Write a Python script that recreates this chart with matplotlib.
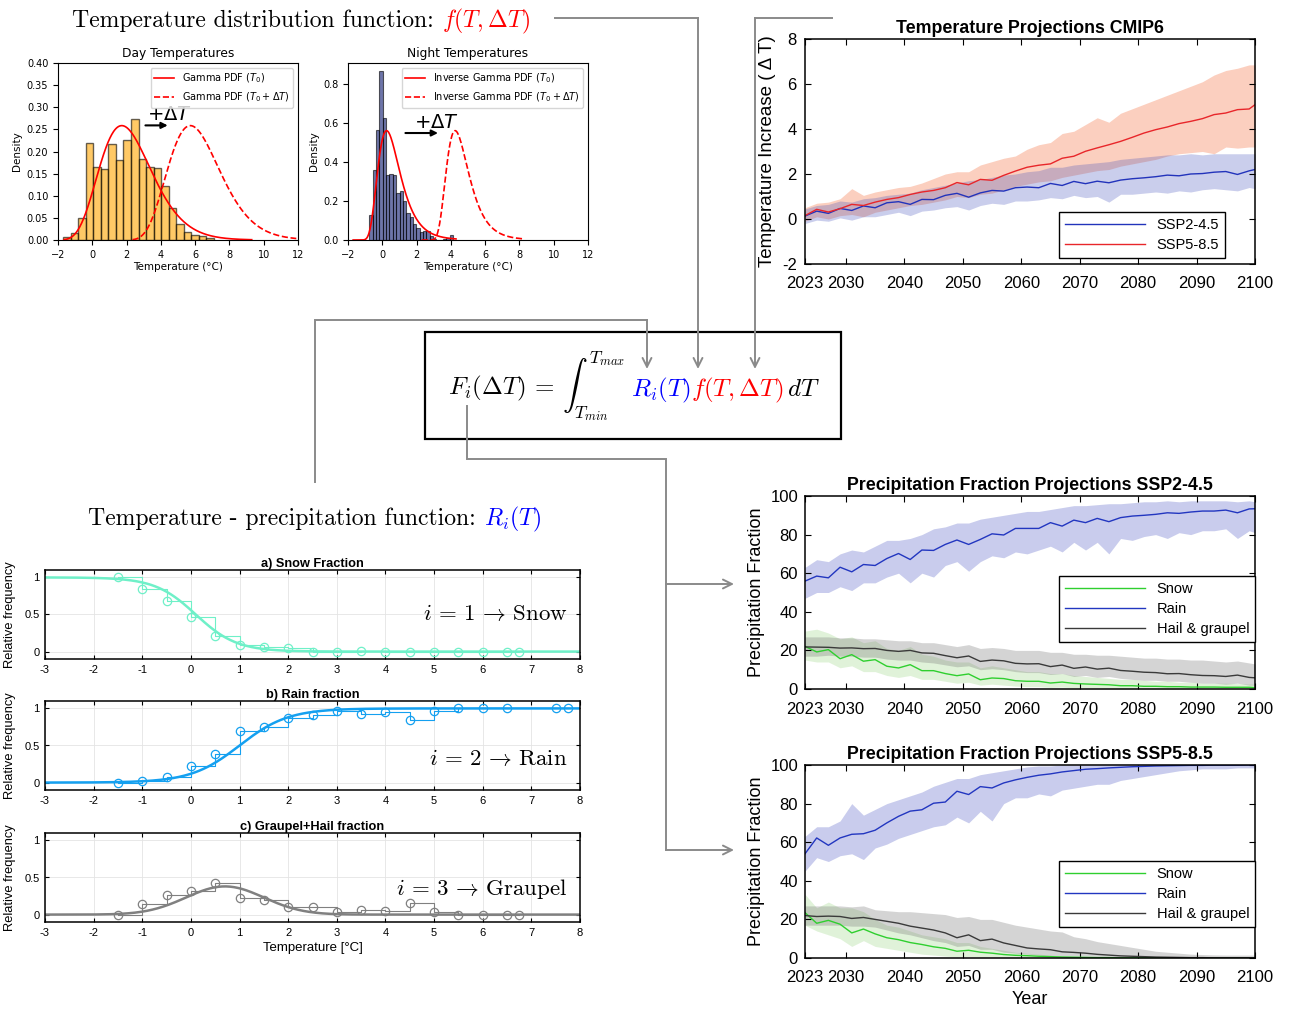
import math
import numpy as np
import matplotlib
matplotlib.use('Agg')
import matplotlib.pyplot as plt
from matplotlib.patches import Rectangle

plt.rcParams['font.family'] = ['Liberation Sans', 'DejaVu Sans']

# ---------------- observed temperature histograms ----------------
day_left = [-1.70, -1.26, -0.82, -0.38, 0.06, 0.50, 0.94, 1.38, 1.82, 2.26,
            2.70, 3.14, 3.58, 4.02, 4.46, 4.90, 5.34, 5.78, 6.22, 6.66]
day_width = 0.44
day_density = [0.006, 0.015, 0.050, 0.220, 0.164, 0.160, 0.217, 0.180, 0.225, 0.273,
               0.183, 0.165, 0.162, 0.123, 0.073, 0.036, 0.018, 0.012, 0.008, 0.005]

night_left = [-0.750, -0.555, -0.360, -0.165, 0.030, 0.225, 0.420, 0.615, 0.810, 1.005,
              1.200, 1.395, 1.590, 1.785, 1.980, 2.175, 2.370, 2.565, 2.760, 2.955,
              3.150, 3.345, 3.540, 3.735, 3.930]
night_width = 0.195
night_density = [0.13, 0.36, 0.56, 0.864, 0.624, 0.33, 0.34, 0.33, 0.24, 0.25,
                 0.20, 0.14, 0.12, 0.08, 0.06, 0.04, 0.045, 0.045, 0.02, 0.005,
                 0.0, 0.0, 0.005, 0.01, 0.025]

# fitted distributions and warming shift
day_gamma = dict(loc=-2.6, shape=9.0, scale=0.54)
night_invgamma = dict(loc=-2.0, shape=11.0, scale=27.0)
delta_T = 4.0

# ---------------- precipitation type vs temperature ----------------
snow_T = [-1.5, -1, -0.5, 0, 0.5, 1, 1.5, 2, 2.5, 3, 3.5, 4, 4.5, 5, 5.5, 6, 6.5, 6.75]
snow_freq = [1.0, 0.85, 0.68, 0.47, 0.21, 0.09, 0.06, 0.05, 0.0, 0.0, 0.01, 0.0, 0.0, 0.0, 0.0, 0.0, 0.0, 0.0]
rain_T = [-1.5, -1, -0.5, 0, 0.5, 1, 1.5, 2, 2.5, 3, 3.5, 4, 4.5, 5, 5.5, 6, 6.5, 7.5, 7.75]
rain_freq = [0.0, 0.02, 0.07, 0.23, 0.39, 0.70, 0.75, 0.87, 0.91, 0.97, 0.93, 0.95, 0.85, 0.96, 1.0, 1.0, 1.0, 1.0, 1.0]
graupel_T = [-1.5, -1, -0.5, 0, 0.5, 1, 1.5, 2, 2.5, 3, 3.5, 4, 4.5, 5, 5.5, 6, 6.5, 6.75]
graupel_freq = [0.0, 0.14, 0.27, 0.32, 0.42, 0.23, 0.20, 0.10, 0.10, 0.04, 0.06, 0.05, 0.15, 0.04, 0.0, 0.0, 0.0, 0.0]

# fitted curves: logistic (snow, rain) and bell (graupel)
snow_fit = dict(mid=0.1, width=0.42)
rain_fit = dict(mid=1.0, width=0.5)
graupel_fit = dict(peak=0.38, center=0.7, sigma=0.8)

# ---------------- CMIP6 projections ----------------
years = list(range(2023, 2100, 2)) + [2100]

ssp245_mean = [0.13, 0.35, 0.25, 0.47, 0.38, 0.58, 0.50, 0.72, 0.77, 0.65,
               0.87, 0.86, 1.05, 1.14, 0.97, 1.16, 1.27, 1.24, 1.39, 1.42,
               1.39, 1.58, 1.49, 1.67, 1.57, 1.68, 1.61, 1.73, 1.79, 1.83,
               1.88, 1.95, 1.92, 2.00, 2.02, 2.08, 2.11, 1.98, 2.14, 2.20]
ssp245_lo = [-0.20, -0.05, -0.10, 0.05, -0.05, 0.10, 0.10, 0.20, 0.30, 0.15,
             0.35, 0.40, 0.50, 0.55, 0.40, 0.60, 0.70, 0.65, 0.80, 0.80,
             0.85, 0.95, 0.90, 1.05, 0.95, 1.00, 0.75, 1.10, 1.10, 1.15,
             1.20, 1.15, 1.25, 1.20, 1.30, 1.35, 1.30, 1.25, 1.40, 1.35]
ssp245_hi = [0.45, 0.60, 0.65, 0.80, 0.75, 0.90, 0.95, 1.05, 1.10, 1.15,
             1.30, 1.40, 1.50, 1.60, 1.70, 1.75, 1.85, 1.95, 2.00, 2.10,
             2.15, 2.30, 2.30, 2.40, 2.45, 2.50, 2.55, 2.65, 2.70, 2.75,
             2.80, 2.85, 2.85, 2.90, 2.85, 2.90, 2.90, 2.90, 2.90, 2.90]

ssp585_mean = [0.15, 0.43, 0.31, 0.46, 0.65, 0.60, 0.75, 0.87, 0.95, 1.09,
               1.20, 1.27, 1.39, 1.62, 1.52, 1.76, 1.72, 1.94, 2.13, 2.30,
               2.39, 2.45, 2.70, 2.79, 3.01, 3.16, 3.30, 3.45, 3.63, 3.82,
               3.97, 4.09, 4.24, 4.34, 4.46, 4.64, 4.71, 4.86, 4.89, 5.08]
ssp585_lo = [-0.10, 0.10, 0.00, 0.15, 0.20, 0.10, 0.30, 0.40, 0.50, 0.60,
             0.65, 0.75, 0.85, 1.00, 0.95, 1.10, 1.15, 1.30, 1.45, 1.55,
             1.65, 1.70, 1.85, 1.95, 2.05, 2.15, 2.20, 2.35, 2.45, 2.55,
             2.65, 2.80, 2.90, 2.95, 3.00, 2.90, 3.20, 3.15, 3.20, 3.20]
ssp585_hi = [0.50, 0.70, 0.75, 0.90, 1.35, 1.05, 1.20, 1.30, 1.40, 1.45,
             1.60, 1.80, 2.00, 2.10, 2.10, 2.40, 2.55, 2.70, 2.80, 3.10,
             3.30, 3.40, 3.80, 3.90, 4.20, 4.50, 4.30, 4.70, 4.90, 5.10,
             5.30, 5.50, 5.70, 5.90, 6.10, 6.40, 6.60, 6.70, 6.85, 6.85]

# ---------------- precipitation fraction projections (%) ----------------
rain245_mean = [55.9, 58.5, 57.6, 63.1, 60.7, 64.5, 64.0, 67.6, 70.2, 67.1,
                72.0, 71.8, 74.9, 77.2, 74.9, 77.5, 80.4, 79.8, 83.2, 83.2,
                83.2, 86.2, 84.4, 87.5, 86.2, 88.4, 86.7, 88.8, 89.6, 90.0,
                90.5, 91.3, 91.0, 91.7, 92.2, 92.2, 92.7, 91.3, 93.3, 93.4]
rain245_lo = [47, 50, 50, 53, 51, 55, 55, 58, 60, 55,
              60, 58, 64, 66, 61, 66, 69, 68, 71, 70,
              72, 74, 71, 76, 72, 76, 70, 78, 77, 79,
              80, 78, 81, 80, 82, 82, 83, 78, 82, 81]
rain245_hi = [63, 67, 66, 70, 72, 71, 74, 77, 77, 78,
              80, 83, 84, 86, 86, 88, 89, 90, 91, 92,
              92, 93, 94, 95, 95, 95.5, 96, 96, 96.5, 97,
              97, 97.5, 97, 97.5, 97.5, 97.5, 97.5, 97, 97.5, 97]
snow245_mean = [22.1, 19.2, 20.4, 15.7, 17.8, 14.4, 15.2, 11.8, 10.9, 12.6,
                9.5, 9.5, 8.0, 6.9, 7.8, 4.8, 5.7, 5.4, 4.3, 4.0,
                4.0, 3.1, 3.6, 2.9, 2.6, 2.4, 2.2, 1.7, 1.7, 1.4,
                1.4, 1.2, 1.2, 1.0, 1.0, 1.0, 0.9, 0.9, 0.9, 0.7]
snow245_lo = [15, 14, 14, 11, 12, 9, 9, 7, 6, 7,
              5, 5, 4, 3, 3.5, 2, 2.5, 2, 1.5, 1.2,
              1.2, 0.8, 1, 0.6, 0.5, 0.4, 0.4, 0.3, 0.3, 0.2,
              0.2, 0.1, 0.1, 0.1, 0.1, 0.05, 0.05, 0.05, 0.05, 0.05]
snow245_hi = [30, 31, 29, 26, 27, 24, 25, 21, 20, 22,
              18, 17, 15, 14, 14, 11, 12, 11, 10, 9,
              9, 8, 8, 7, 6.5, 6, 5.5, 5, 5, 4.5,
              4, 4, 3.5, 3.5, 3, 3, 3, 2.8, 2.6, 2.5]
hail245_mean = [21.8, 21.7, 21.6, 21.2, 21.3, 20.9, 21.0, 20.0, 19.5, 20.0,
                18.7, 18.5, 17.3, 16.2, 17.1, 14.3, 15.0, 14.6, 13.3, 13.0,
                13.1, 11.6, 12.4, 10.7, 11.4, 10.3, 10.8, 9.6, 9.2, 8.7,
                8.5, 7.9, 8.0, 7.4, 7.0, 6.9, 6.5, 7.2, 6.0, 5.8]
hail245_lo = [17, 17, 17.5, 17, 17, 16.5, 16.5, 15.5, 15, 15,
              14, 13.5, 12.5, 11.5, 12, 10, 10.5, 10, 9, 8.5,
              8.5, 7.5, 8, 6.5, 7, 6, 6.5, 5.5, 5, 4.5,
              4.5, 4, 4, 3.5, 3, 3, 2.5, 3, 2, 2]
hail245_hi = [27, 27, 27, 26.5, 26.5, 26, 26, 25.5, 25, 25,
              24, 24, 23, 22, 23, 21, 21.5, 21, 20, 20,
              20, 19, 19, 18, 18, 17.5, 17.5, 17, 16.5, 16,
              16, 15.5, 15.5, 15, 15, 14.5, 14, 14.5, 13.5, 13]

rain585_mean = [54.0, 62.2, 58.4, 62.2, 64.1, 64.4, 66.2, 70.0, 73.4, 76.1,
                76.8, 80.2, 80.8, 86.4, 84.7, 88.8, 88.1, 90.7, 92.3, 93.6,
                94.7, 95.4, 96.4, 97.1, 97.8, 98.1, 98.5, 98.8, 99.1, 99.3,
                99.5, 99.6, 99.7, 99.8, 99.8, 99.9, 99.9, 99.9, 100.0, 100.0]
rain585_lo = [45, 52, 50, 53, 54, 51, 57, 59, 62, 64,
              66, 68, 69, 73, 70, 76, 71, 80, 83, 83,
              85, 84, 87, 88, 89, 90, 90, 92, 93, 94,
              95, 96, 97, 97.5, 98, 98, 98, 98.5, 98.5, 98.5]
rain585_hi = [63, 68, 68, 71, 80, 74, 77, 80, 82, 84,
              86, 89, 91, 93, 93, 95, 96, 97, 98, 99,
              99.5, 99.5, 100, 100, 100, 100, 100, 100, 100, 100,
              100, 100, 100, 100, 100, 100, 100, 100, 100, 100]
snow585_mean = [23.5, 18.0, 19.5, 17.5, 13.0, 15.0, 12.5, 10.5, 9.5, 8.0,
                7.0, 5.8, 5.0, 3.5, 4.0, 3.0, 2.5, 1.8, 1.4, 1.2,
                0.9, 0.7, 0.5, 0.4, 0.3, 0.2, 0.2, 0.1, 0.1, 0.1,
                0.1, 0.05, 0.05, 0.05, 0.05, 0.05, 0.05, 0.0, 0.0, 0.0]
snow585_lo = [17, 14, 12, 10, 6, 9, 6, 5, 4, 3,
              2, 1.5, 1, 0.5, 0.8, 0.4, 0.3, 0.2, 0.1, 0.1,
              0.05, 0, 0, 0, 0, 0, 0, 0, 0, 0,
              0, 0, 0, 0, 0, 0, 0, 0, 0, 0]
snow585_hi = [33, 26, 29, 26, 26, 24, 20, 17, 16, 14,
              12, 11, 10, 8, 8, 6, 5, 4, 3, 2.5,
              2, 1.5, 1, 0.8, 0.6, 0.5, 0.4, 0.3, 0.3, 0.3,
              0.3, 0.3, 0.2, 0.2, 0.2, 0.2, 0.2, 0.2, 0.2, 0.2]
hail585_mean = [22.0, 21.5, 21.7, 21.5, 20.5, 21.0, 20.0, 19.0, 18.0, 16.5,
                15.5, 14.5, 13.0, 10.5, 12.0, 9.0, 9.8, 7.8, 6.5, 5.2,
                4.7, 4.3, 3.2, 2.9, 2.5, 1.9, 1.5, 1.1, 0.9, 0.7,
                0.5, 0.4, 0.3, 0.2, 0.2, 0.1, 0.1, 0.1, 0.1, 0.1]
hail585_lo = [17, 17, 17, 17, 16.5, 16.5, 16, 14.5, 13, 12,
              10.5, 9, 8, 6, 6.5, 4.5, 4.5, 3, 2.5, 2,
              1.5, 1, 0.8, 0.5, 0.4, 0.3, 0.2, 0.1, 0.1, 0.05,
              0, 0, 0, 0, 0, 0, 0, 0, 0, 0]
hail585_hi = [27, 27, 27, 27, 26.5, 27, 25, 24.5, 24, 24,
              23.5, 23, 22.5, 21, 21.5, 20, 20, 18.5, 17, 16,
              15, 14, 13.5, 11, 10, 8.5, 7.5, 6.5, 5.5, 4.5,
              3.5, 3, 2.5, 2, 1.8, 1.6, 1.5, 1.5, 1.5, 1.5]

year_ticks = [2023, 2030, 2040, 2050, 2060, 2070, 2080, 2090, 2100]
temp_ticks = [-2, 0, 2, 4, 6, 8, 10, 12]
freq_Tticks = [-3, -2, -1, 0, 1, 2, 3, 4, 5, 6, 7, 8]


def gamma_pdf(t, loc, shape, scale):
    x = np.clip(np.asarray(t) - loc, 1e-9, None)
    return np.exp((shape - 1) * np.log(x) - x / scale - math.lgamma(shape) - shape * math.log(scale))


def invgamma_pdf(t, loc, shape, scale):
    x = np.clip(np.asarray(t) - loc, 1e-9, None)
    return np.exp(shape * math.log(scale) - math.lgamma(shape) - (shape + 1) * np.log(x) - scale / x)


W, H = 1290, 1014
fig = plt.figure(figsize=(W / 100, H / 100), dpi=100)


def box(l, t, r, b):
    return fig.add_axes([l / W, 1 - b / H, (r - l) / W, (b - t) / H])


# overlay in pixel units for the connectors, the formula and the headings
ov = fig.add_axes([0, 0, 1, 1])
ov.set_xlim(0, W)
ov.set_ylim(H, 0)
ov.axis('off')
ov.patch.set_alpha(0)

DV = 'DejaVu Sans'
umin = lambda v: ('%g' % v).replace('-', '\u2212')

# ---- Day temperatures ----
ax = box(58, 63, 298, 240)
ax.bar(day_left, day_density, width=day_width, align='edge', color='orange',
       alpha=0.6, edgecolor='black', linewidth=1.0)
t = np.linspace(-1.65, 9.3, 300)
ax.plot(t, gamma_pdf(t, **day_gamma), color='red', lw=1.2, label=r'Gamma PDF ($T_0$)')
t = np.linspace(-1.65, 7.9, 300)
ax.plot(t + delta_T, gamma_pdf(t, **day_gamma), color='red', ls='--', lw=1.2,
        label=r'Gamma PDF ($T_0 + \Delta T$)')
ax.set_xlim(-2, 12)
ax.set_ylim(0, 0.40)
ax.set_xticks(temp_ticks)
ax.set_xticklabels([umin(v) for v in temp_ticks], family=DV, fontsize=7)
day_yt = [0, 0.05, 0.10, 0.15, 0.20, 0.25, 0.30, 0.35, 0.40]
ax.set_yticks(day_yt)
ax.set_yticklabels(['%.2f' % v for v in day_yt], family=DV, fontsize=7)
ax.set_title('Day Temperatures', family=DV, fontsize=8.8, pad=4)
ax.set_xlabel('Temperature (°C)', family=DV, fontsize=7.5, labelpad=2)
ax.set_ylabel('Density', family=DV, fontsize=7.5, labelpad=3)
ax.legend(loc='upper right', prop={'family': DV, 'size': 7})
ax.text(3.2, 0.272, r'$+\Delta T$', family=DV, fontsize=14)
ax.annotate('', xy=(4.4, 0.259), xytext=(3.1, 0.259),
            arrowprops=dict(arrowstyle='-|>', color='black', lw=1.5, mutation_scale=9,
                            shrinkA=0, shrinkB=0))

# ---- Night temperatures ----
ax = box(348, 63, 588, 240)
ax.bar(night_left, night_density, width=night_width, align='edge', color='#0d1a70',
       alpha=0.6, edgecolor='black', linewidth=0.8)
t = np.linspace(-1.7, 4.3, 300)
ax.plot(t, invgamma_pdf(t, **night_invgamma), color='red', lw=1.2,
        label=r'Inverse Gamma PDF ($T_0$)')
ax.plot(t + delta_T, invgamma_pdf(t, **night_invgamma), color='red', ls='--', lw=1.2,
        label=r'Inverse Gamma PDF ($T_0 + \Delta T$)')
ax.set_xlim(-2, 12)
ax.set_ylim(0, 0.905)
ax.set_xticks(temp_ticks)
ax.set_xticklabels([umin(v) for v in temp_ticks], family=DV, fontsize=7)
night_yt = [0, 0.2, 0.4, 0.6, 0.8]
ax.set_yticks(night_yt)
ax.set_yticklabels(['%.1f' % v for v in night_yt], family=DV, fontsize=7)
ax.set_title('Night Temperatures', family=DV, fontsize=8.8, pad=4)
ax.set_xlabel('Temperature (°C)', family=DV, fontsize=7.5, labelpad=2)
ax.set_ylabel('Density', family=DV, fontsize=7.5, labelpad=3)
ax.legend(loc='upper right', prop={'family': DV, 'size': 7})
ax.text(1.85, 0.575, r'$+\Delta T$', family=DV, fontsize=14)
ax.annotate('', xy=(3.25, 0.547), xytext=(1.35, 0.547),
            arrowprops=dict(arrowstyle='-|>', color='black', lw=1.5, mutation_scale=9,
                            shrinkA=0, shrinkB=0))


def matlab_style(ax, xt, yt, fs, xpad=3, ypad=3):
    ax.tick_params(direction='in', top=True, right=True, length=4, width=0.8)
    ax.tick_params(axis='x', pad=xpad)
    ax.tick_params(axis='y', pad=ypad)
    ax.set_xticks(xt)
    ax.set_xticklabels(['%g' % v for v in xt], fontsize=fs)
    ax.set_yticks(yt)
    ax.set_yticklabels(['%g' % v for v in yt], fontsize=fs)
    for s in ax.spines.values():
        s.set_linewidth(1.1)


# ---- CMIP6 temperature projections ----
ax = box(805, 39, 1255, 264)
ax.fill_between(years, ssp585_lo, ssp585_hi, color=(0.96, 0.43, 0.24), alpha=0.33, lw=0)
ax.fill_between(years, ssp245_lo, ssp245_hi, color=(0.24, 0.29, 0.73), alpha=0.27, lw=0)
ax.plot(years, ssp245_mean, color='#2233bb', lw=1.0, label='SSP2-4.5')
ax.plot(years, ssp585_mean, color='#e8262a', lw=1.0, label='SSP5-8.5')
ax.set_xlim(2023, 2100)
ax.set_ylim(-2, 8)
matlab_style(ax, year_ticks, [-2, 0, 2, 4, 6, 8], 12, xpad=9, ypad=6)
ax.set_title('Temperature Projections CMIP6', fontsize=12.8, fontweight='bold', pad=4)
ax.set_ylabel('Temperature Increase ( \u0394 T)', fontsize=13.5, labelpad=4)
leg = ax.legend(loc='lower right', bbox_to_anchor=(0.933, 0.027), fontsize=10.5,
                fancybox=False, edgecolor='black', framealpha=1, handlelength=5.5,
                labelspacing=0.42, borderaxespad=0)
leg.get_frame().set_linewidth(1.0)


def precip_panel(px, title, rain, snow, hail, leg_y, xlabel=False):
    ax = box(*px)
    ax.fill_between(years, rain[1], rain[2], color=(0.24, 0.29, 0.75), alpha=0.28, lw=0)
    ax.fill_between(years, snow[1], snow[2], color=(0.45, 0.78, 0.33), alpha=0.22, lw=0)
    ax.fill_between(years, hail[1], hail[2], color=(0.45, 0.45, 0.45), alpha=0.30, lw=0)
    ax.plot(years, snow[0], color='#2fcf2f', lw=1.0, label='Snow')
    ax.plot(years, rain[0], color='#2236c0', lw=1.0, label='Rain')
    ax.plot(years, hail[0], color='#3a3a3a', lw=1.0, label='Hail & graupel')
    ax.set_xlim(2023, 2100)
    ax.set_ylim(0, 100)
    matlab_style(ax, year_ticks, [0, 20, 40, 60, 80, 100], 12, xpad=9, ypad=5)
    ax.set_title(title, fontsize=12.8, fontweight='bold', pad=4)
    ax.set_ylabel('Precipitation Fraction', fontsize=13, labelpad=4)
    if xlabel:
        ax.set_xlabel('Year', fontsize=13, labelpad=4)
    leg = ax.legend(loc='lower right', bbox_to_anchor=(1.0, leg_y), fontsize=10.5,
                    fancybox=False, edgecolor='black', framealpha=1, handlelength=5.5,
                    labelspacing=0.42, borderaxespad=0)
    leg.get_frame().set_linewidth(1.0)
    return ax


precip_panel((805, 496, 1255, 689), 'Precipitation Fraction Projections SSP2-4.5',
             (rain245_mean, rain245_lo, rain245_hi),
             (snow245_mean, snow245_lo, snow245_hi),
             (hail245_mean, hail245_lo, hail245_hi), 0.243)
precip_panel((805, 765, 1255, 958), 'Precipitation Fraction Projections SSP5-8.5',
             (rain585_mean, rain585_lo, rain585_hi),
             (snow585_mean, snow585_lo, snow585_hi),
             (hail585_mean, hail585_lo, hail585_hi), 0.16, xlabel=True)

# ---- relative frequency of each precipitation type ----
tt = np.linspace(-3, 8, 400)
snow_curve = 1 / (1 + np.exp((tt - snow_fit['mid']) / snow_fit['width']))
rain_curve = 1 / (1 + np.exp(-(tt - rain_fit['mid']) / rain_fit['width']))
graupel_curve = graupel_fit['peak'] * np.exp(-0.5 * ((tt - graupel_fit['center']) / graupel_fit['sigma']) ** 2)

panels = [
    ((45, 570, 580, 659), snow_T, snow_freq, snow_curve, '#6ff0c8', 'a) Snow Fraction',
     r'$i\,=\,1\,\rightarrow\,\mathrm{Snow}$', 0.52),
    ((45, 701, 580, 790), rain_T, rain_freq, rain_curve, '#14a0f0', 'b) Rain fraction',
     r'$i\,=\,2\,\rightarrow\,\mathrm{Rain}$', 0.32),
    ((45, 833, 580, 922), graupel_T, graupel_freq, graupel_curve, '#808080', 'c) Graupel+Hail fraction',
     r'$i\,=\,3\,\rightarrow\,\mathrm{Graupel}$', 0.35),
]
for px, T, freq, curve, col, title, lab, ly in panels:
    ax = box(*px)
    ax.grid(True, color='#e4e4e4', lw=0.6)
    ax.set_axisbelow(True)
    ax.step(T, freq, where='post', color=col, lw=0.8)
    ax.plot(T, freq, 'o', mfc='none', mec=col, ms=6, mew=0.9)
    ax.plot(tt, curve, color=col, lw=1.8)
    ax.set_xlim(-3, 8)
    ax.set_ylim(-0.1, 1.1)
    matlab_style(ax, freq_Tticks, [0, 0.5, 1], 8, xpad=4, ypad=4)
    ax.tick_params(length=3)
    ax.set_title(title, fontsize=9.2, fontweight='bold', pad=2)
    ax.set_ylabel('Relative frequency', fontsize=9.3, labelpad=6)
    ax.text(7.75, ly, lab, ha='right', va='center', fontsize=16.5, math_fontfamily='cm')
ax.set_xlabel('Temperature [°C]', fontsize=9.5, labelpad=3)

# ---- formula box, headings and connectors ----
renderer = fig.canvas.get_renderer()


def chain(x, y, parts, fs):
    for s, c, fam in parts:
        kw = dict(math_fontfamily='cm') if fam is None else dict(family=fam)
        txt = ov.text(x, y, s, color=c, fontsize=fs, ha='left', va='baseline', **kw)
        bb = txt.get_window_extent(renderer=renderer)
        x = ov.transData.inverted().transform((bb.x1, bb.y0))[0]


chain(72, 27, [('Temperature distribution function: ', 'black', 'cmr10'),
               (r'$f(T,\Delta T)$', 'red', None)], 17.1)
chain(88, 525, [('Temperature - precipitation function: ', 'black', 'cmr10'),
                (r'$R_i(T)$', 'blue', None)], 17.1)

ov.add_patch(Rectangle((425, 332), 416, 107, fill=False, ec='black', lw=1.6))
chain(448, 396, [(r'$F_i(\Delta T)\,=\,\int_{T_{min}}^{T_{max}}$', 'black', None),
                 (r'$\;R_i(T)$', 'blue', None),
                 (r'$f(T,\Delta T)$', 'red', None),
                 (r'$\,dT$', 'black', None)], 18)

gray = '#8a8a8a'


def connector(pts, arrow=True):
    body = pts[:-1] if arrow else pts
    if len(body) > 1:
        xs, ys = zip(*body)
        ov.plot(xs, ys, color=gray, lw=1.4, solid_joinstyle='miter')
    if arrow:
        ov.annotate('', xy=pts[-1], xytext=pts[-2],
                    arrowprops=dict(arrowstyle='->', color=gray, lw=1.4,
                                    mutation_scale=16, shrinkA=0, shrinkB=0))


connector([(555, 18), (698, 18), (698, 369)])
connector([(832, 18), (755, 18), (755, 369)])
connector([(315, 482), (315, 320), (647, 320), (647, 369)])
connector([(467, 406), (467, 459), (666, 459), (666, 850)], arrow=False)
connector([(666, 584), (734, 584)])
connector([(666, 850), (734, 850)])

fig.savefig('out.png', dpi=100)
